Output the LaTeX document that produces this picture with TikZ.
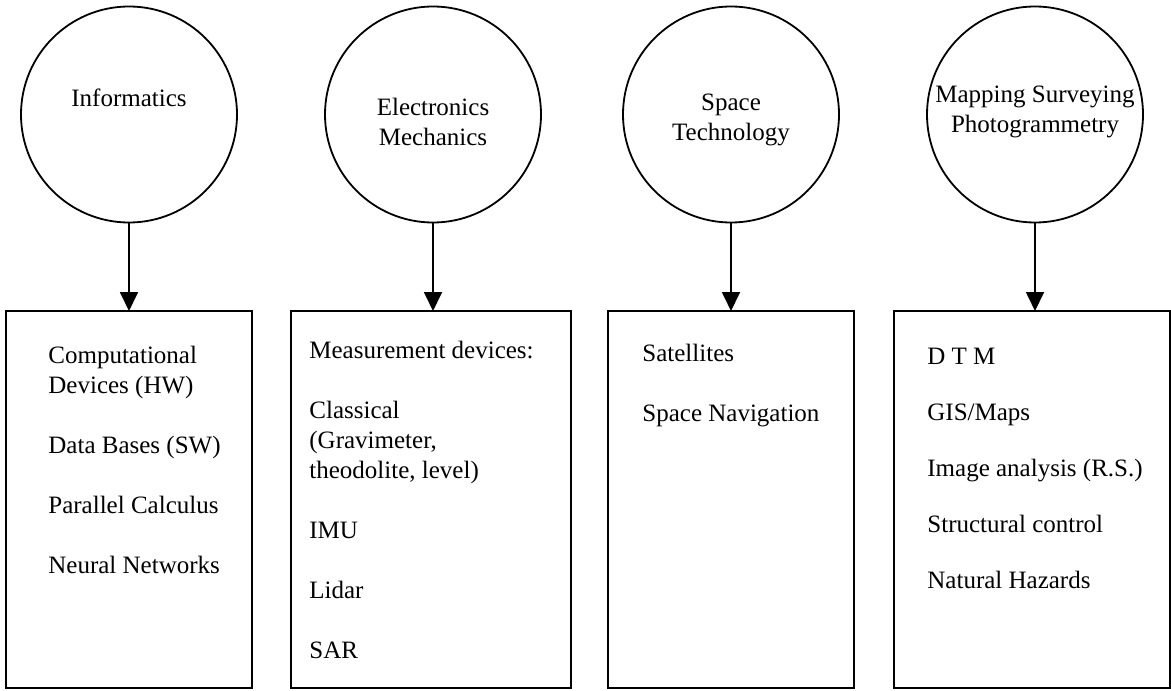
\documentclass[tikz,border=0pt]{standalone}
\usepackage{fontspec}
\setmainfont{Liberation Serif}
\usetikzlibrary{positioning,arrows.meta}

\begin{document}
\begin{tikzpicture}[x=0.5pt,y=-0.5pt,
    every node/.style={font=\fontsize{12.5pt}{15pt}\selectfont},
    fieldnode/.style={circle, draw, line width=0.9pt, minimum size=108pt, inner sep=0pt, outer sep=0pt},
    boxnode/.style={rectangle, draw, line width=0.9pt, minimum height=188.5pt, inner sep=0pt, outer sep=0pt},
    titletext/.style={align=center, inner sep=0pt},
    itemtext/.style={align=left, inner sep=0pt, anchor=base west},
    arrowline/.style={line width=0.9pt, -{Triangle[length=9.5pt,width=9pt]}}]

    \useasboundingbox (0,0) rectangle (1171,690);

    % the four fields
    \node[fieldnode] (inf) at (129,114.5) {};
    \node[fieldnode] (ele) at (433,114.5) {};
    \node[fieldnode] (spa) at (731,114.5) {};
    \node[fieldnode] (map) at (1035,114.5) {};

    \node[titletext] (inftitle) at ([yshift=8.25pt]inf.center) {Informatics};
    \node[titletext] (eletitle) at ([yshift=-3.75pt]ele.center) {Electronics\\Mechanics};
    \node[titletext] (spatitle) at ([yshift=-2.5pt]spa.center) {Space\\Technology};
    \node[titletext] (maptitle) at ([yshift=1.25pt]map.center) {Mapping Surveying\\Photogrammetry};

    % boxes under the fields
    \node[boxnode, minimum width=123pt] (infbox) [below=44.25pt of inf] {};
    \node[boxnode, minimum width=140pt] (elebox) [below=44.25pt of ele, xshift=-1pt] {};
    \node[boxnode, minimum width=123pt] (spabox) [below=44.25pt of spa] {};
    \node[boxnode, minimum width=138pt] (mapbox) [below=44.25pt of map, xshift=-1.5pt] {};

    \draw[arrowline] (inf.south) -- (inf.south |- infbox.north);
    \draw[arrowline] (ele.south) -- (ele.south |- elebox.north);
    \draw[arrowline] (spa.south) -- (spa.south |- spabox.north);
    \draw[arrowline] (map.south) -- (map.south |- mapbox.north);

    % box contents (base = last line)
    \node[itemtext] (inftxt) at ([xshift=21pt,yshift=-131pt]infbox.north west)
        {Computational\\Devices (HW)\\[15pt]Data Bases (SW)\\[15pt]Parallel Calculus\\[15pt]Neural Networks};
    \node[itemtext] (eletxt) at ([xshift=9pt,yshift=-173.5pt]elebox.north west)
        {Measurement devices:\\[15pt]Classical\\(Gravimeter,\\theodolite, level)\\[15pt]IMU\\[15pt]Lidar\\[15pt]SAR};
    \node[itemtext] (spatxt) at ([xshift=17pt,yshift=-55pt]spabox.north west)
        {Satellites\\[15pt]Space Navigation};
    \node[itemtext] (maptxt) at ([xshift=16.5pt,yshift=-138.5pt]mapbox.north west)
        {D T M\\[13pt]GIS/Maps\\[13pt]Image analysis (R.S.)\\[13pt]Structural control\\[13pt]Natural Hazards};

\end{tikzpicture}
\end{document}
